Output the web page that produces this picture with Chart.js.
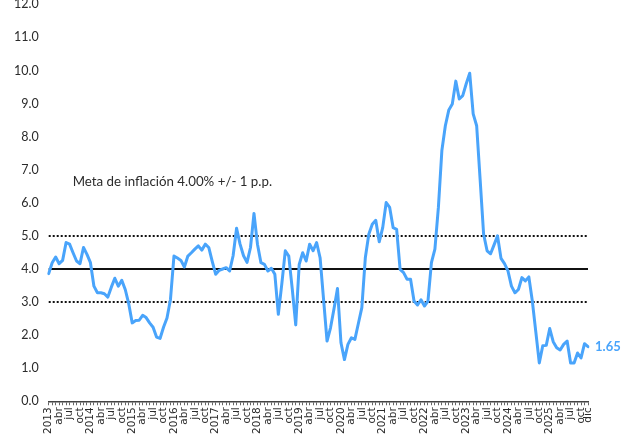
<!DOCTYPE html>
<html lang="es">
<head>
<meta charset="utf-8">
<title>Inflación interanual</title>
<script src="https://cdn.jsdelivr.net/npm/chart.js@4.4.1/dist/chart.umd.min.js"></script>
<style>
  html, body { margin: 0; padding: 0; background: #ffffff; }
  #wrap { width: 621px; height: 440px; position: relative; }
</style>
</head>
<body>
<div id="wrap"><canvas id="inflationChart"></canvas></div>
<script>
// Monthly series, Jan 2013 - Dec 2025
const years = [2013, 2014, 2015, 2016, 2017, 2018, 2019, 2020, 2021, 2022, 2023, 2024, 2025];
const monthAbbr = ['ene', 'feb', 'mar', 'abr', 'may', 'jun', 'jul', 'ago', 'sep', 'oct', 'nov', 'dic'];

// Year-on-year inflation (%), one array per year
const inf2013 = [3.86, 4.19, 4.36, 4.16, 4.26, 4.80, 4.75, 4.49, 4.24, 4.16, 4.65, 4.44];
const inf2014 = [4.19, 3.48, 3.28, 3.28, 3.25, 3.15, 3.45, 3.72, 3.48, 3.66, 3.38, 2.95];
const inf2015 = [2.37, 2.44, 2.45, 2.60, 2.53, 2.37, 2.24, 1.94, 1.90, 2.24, 2.52, 3.08];
const inf2016 = [4.39, 4.33, 4.26, 4.06, 4.39, 4.49, 4.60, 4.70, 4.57, 4.75, 4.65, 4.23];
const inf2017 = [3.84, 3.96, 4.00, 4.04, 3.94, 4.40, 5.23, 4.75, 4.40, 4.20, 4.65, 5.68];
const inf2018 = [4.75, 4.19, 4.14, 3.94, 4.02, 3.84, 2.63, 3.55, 4.55, 4.39, 3.40, 2.31];
const inf2019 = [4.14, 4.49, 4.24, 4.75, 4.55, 4.80, 4.34, 3.08, 1.82, 2.22, 2.80, 3.41];
const inf2020 = [1.77, 1.26, 1.72, 1.92, 1.87, 2.35, 2.83, 4.34, 5.05, 5.35, 5.47, 4.82];
const inf2021 = [5.25, 6.01, 5.86, 5.25, 5.20, 3.99, 3.89, 3.69, 3.69, 3.03, 2.91, 3.07];
const inf2022 = [2.88, 3.03, 4.19, 4.60, 5.86, 7.58, 8.33, 8.81, 8.99, 9.68, 9.14, 9.24];
const inf2023 = [9.60, 9.92, 8.69, 8.33, 6.70, 5.05, 4.55, 4.46, 4.73, 5.00, 4.32, 4.16];
const inf2024 = [3.94, 3.48, 3.28, 3.38, 3.74, 3.64, 3.76, 3.03, 2.10, 1.16, 1.68, 1.69];
const inf2025 = [2.20, 1.80, 1.62, 1.55, 1.72, 1.82, 1.16, 1.16, 1.46, 1.31, 1.74, 1.65];

// Inflation target and tolerance band
const targetRate = 4.0;
const tolerance = 1.0;
const targetNote = 'Meta de inflación 4.00% +/- 1 p.p.';

// y axis range
const yMin = 0;
const yMax = 12;
const yStep = 1;

const inflation = [].concat(inf2013, inf2014, inf2015, inf2016, inf2017, inf2018, inf2019,
                            inf2020, inf2021, inf2022, inf2023, inf2024, inf2025);
const categories = [];
years.forEach(y => monthAbbr.forEach(m => categories.push(m + ' ' + y)));
const lastIdx = categories.length - 1;

const lineBlue = '#49a4fb';
const textColor = '#2b2b2b';

// x tick text: year on January, month on Apr/Jul/Oct, and the final month
function xTickText(idx) {
    const m = idx % 12;
    if (idx === lastIdx) return monthAbbr[m];
    if (m === 0) return String(years[Math.floor(idx / 12)]);
    if (m % 3 === 0) return monthAbbr[m];
    return '';
}

// Target note and last-value label
const labelsPlugin = {
    id: 'labels',
    afterDatasetsDraw(chart) {
        const { ctx, scales } = chart;
        const xs = scales.x, ys = scales.y;
        ctx.save();
        ctx.fillStyle = textColor;
        ctx.font = '13.3px Lato';
        ctx.textAlign = 'left';
        ctx.textBaseline = 'middle';
        ctx.fillText(targetNote, xs.getPixelForValue(6.9), ys.getPixelForValue(6.64));

        const last = inflation[lastIdx];
        ctx.fillStyle = lineBlue;
        ctx.font = 'bold 13px Lato';
        ctx.fillText(last.toFixed(2), xs.getPixelForValue(lastIdx) + 7, ys.getPixelForValue(last));
        ctx.restore();
    }
};

const refLine = (value, dash) => ({
    data: categories.map(() => value),
    borderColor: '#111111',
    borderWidth: 2,
    borderDash: dash,
    pointRadius: 0,
    fill: false,
    tension: 0
});

new Chart(document.getElementById('inflationChart'), {
    type: 'line',
    data: {
        labels: categories,
        datasets: [
            {
                label: 'Inflación',
                data: inflation,
                borderColor: lineBlue,
                borderWidth: 3,
                borderJoinStyle: 'round',
                borderCapStyle: 'round',
                pointRadius: 0,
                fill: false,
                tension: 0
            },
            refLine(targetRate, []),
            refLine(targetRate + tolerance, [2, 2]),
            refLine(targetRate - tolerance, [2, 2])
        ]
    },
    options: {
        responsive: true,
        maintainAspectRatio: false,
        animation: false,
        devicePixelRatio: 1,
        layout: { padding: { top: 0, right: 33, bottom: 4, left: 14 } },
        plugins: {
            legend: { display: false },
            tooltip: { enabled: false }
        },
        scales: {
            x: {
                type: 'category',
                offset: false,
                grid: {
                    display: true,
                    drawOnChartArea: false,
                    drawTicks: true,
                    tickLength: 4,
                    color: '#666666',
                    lineWidth: 1
                },
                border: { display: true, color: '#444444', width: 1.5 },
                ticks: {
                    autoSkip: false,
                    maxRotation: 90,
                    minRotation: 90,
                    padding: 2,
                    color: textColor,
                    font: { family: 'DejaVu Sans', size: 10.5 },
                    callback: (value, idx) => xTickText(idx)
                }
            },
            y: {
                min: yMin,
                max: yMax,
                // tick marks are hidden; their length only spaces labels from the plot
                grid: { display: false, drawTicks: true, tickLength: 10 },
                border: { display: false },
                ticks: {
                    stepSize: yStep,
                    padding: 0,
                    color: textColor,
                    font: { family: 'Lato', size: 12.5, lineHeight: 0.7 },
                    callback: value => Number(value).toFixed(1)
                }
            }
        }
    },
    plugins: [labelsPlugin]
});
</script>
</body>
</html>
